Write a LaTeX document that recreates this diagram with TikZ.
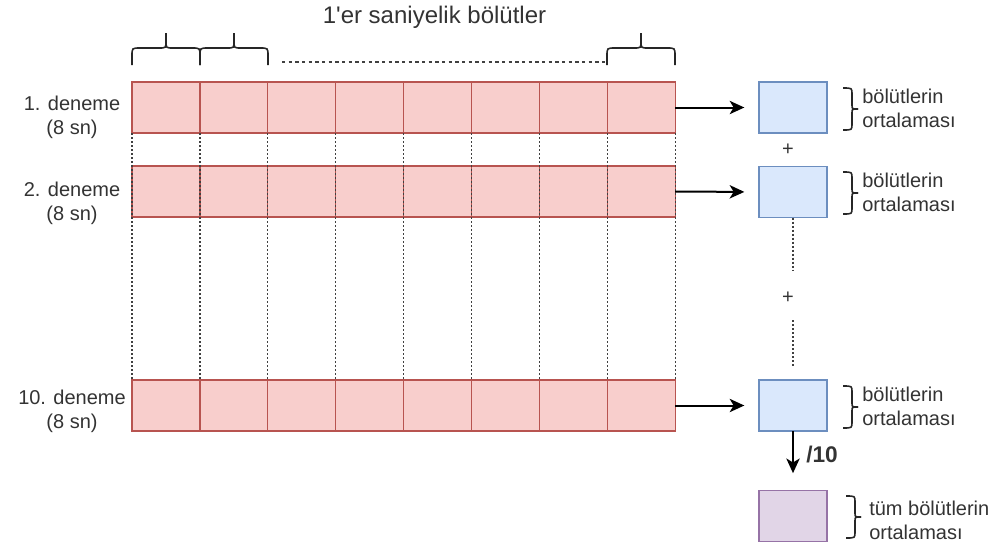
\documentclass[tikz,border=0pt]{standalone}
\usepackage{fontspec}
\setmainfont{Liberation Sans}[Ligatures=TeXOff]
\usetikzlibrary{arrows.meta}
\definecolor{rfill}{HTML}{F8CECC}
\definecolor{rdraw}{HTML}{B85450}
\definecolor{bfill}{HTML}{DAE8FC}
\definecolor{bdraw}{HTML}{6C8EBF}
\definecolor{pfill}{HTML}{E1D5E7}
\definecolor{pdraw}{HTML}{9673A6}
\definecolor{txt}{HTML}{333333}
\newcommand\TopBrace[2]{%
  \draw[bracestyle] (#1,65) -- (#1,56) .. controls (#1,48) .. ({#1+8},48) -- ({(#1+#2)/2-7},48) .. controls ({(#1+#2)/2},48) .. ({(#1+#2)/2},41) -- ({(#1+#2)/2},33);
  \draw[bracestyle] (#2,65) -- (#2,56) .. controls (#2,48) .. ({#2-8},48) -- ({(#1+#2)/2+7},48) .. controls ({(#1+#2)/2},48) .. ({(#1+#2)/2},41);
}
\newcommand\SideBrace[3]{%
  \draw[bracestyle] (#1,#2) .. controls ({#1+9},#2) .. ({#1+9},{#2+6}) -- ({#1+9},{(#2+#3)/2-4}) .. controls ({#1+9},{(#2+#3)/2}) .. ({#1+15},{(#2+#3)/2});
  \draw[bracestyle] (#1,#3) .. controls ({#1+9},#3) .. ({#1+9},{#3-6}) -- ({#1+9},{(#2+#3)/2+4}) .. controls ({#1+9},{(#2+#3)/2}) .. ({#1+15},{(#2+#3)/2});
}
\begin{document}
\begin{tikzpicture}[x=0.75pt,y=-0.75pt,
  font=\fontsize{15pt}{18pt}\selectfont, text=txt,
  cell/.style={draw=rdraw,fill=rfill,line width=1pt,minimum width=50.9pt,minimum height=38.25pt,inner sep=0pt,outer sep=0pt,anchor=north west},
  avgbox/.style={draw=bdraw,fill=bfill,line width=1pt,minimum width=51pt,minimum height=38.25pt,inner sep=0pt,outer sep=0pt},
  allbox/.style={avgbox,draw=pdraw,fill=pfill},
  dotline/.style={draw=black!75,line width=0.9pt,dash pattern=on 1.5pt off 1.5pt},
  dashline/.style={draw=black!75,line width=0.8pt,dash pattern=on 2.5pt off 2.5pt},
  bracestyle/.style={draw=black!85,line width=1.2pt},
  arr/.style={draw=black,line width=1.5pt,-{Stealth[length=11pt,width=10pt,inset=3pt]}},
  lbl/.style={align=center,inner sep=0pt},
  side/.style={align=left,anchor=west,inner sep=0pt},
]
\useasboundingbox (0,0) rectangle (999,550);

\node[inner sep=0pt,font=\fontsize{18pt}{20pt}\selectfont] (title) at (434.5,17) {1'er saniyelik bölütler};

\foreach \i in {0,...,7}{
  \node[cell] (a\i) at ({132+67.9*\i},82) {};
  \node[cell] (b\i) at ({132+67.9*\i},166) {};
  \node[cell] (c\i) at ({132+67.9*\i},380) {};
}
\foreach \i in {0,...,7}{
  \draw[dotline] (a\i.south west) -- (c\i.north west);
}
\draw[dotline] (a7.south east) -- (c7.north east);

\TopBrace{132}{200}
\TopBrace{200}{268}
\TopBrace{607}{675}
\coordinate (h1) at (282,62);
\coordinate (h2) at (605,62);
\draw[dashline] (h1) -- (h2);

\node[lbl] (l1) at (72,117) {1. deneme\\(8 sn)};
\node[lbl] (l2) at (72,203) {2. deneme\\(8 sn)};
\node[lbl] (l3) at (72,411) {10. deneme\\(8 sn)};

\node[avgbox] (m1) at (793,107.5) {};
\node[avgbox] (m2) at (793,192) {};
\node[avgbox] (m3) at (793,405.5) {};
\node[allbox] (p) at (793,516) {};

\draw[arr,shorten >=11pt] (a7.east) -- (m1.west);
\draw[arr,shorten >=11pt] (b7.east) -- (m2.west);
\draw[arr,shorten >=11pt] (c7.east) -- (m3.west);
\draw[arr,shorten >=13pt] (m3.south) -- (p.north);
\node[anchor=west,inner sep=0pt,font=\fontsize{17pt}{20pt}\selectfont\bfseries] (div) at (806,455) {/10};

\node[inner sep=0pt] (plus1) at (788,150) {+};
\node[inner sep=0pt] (plus2) at (788,298) {+};
\coordinate (d1) at (793,270);
\coordinate (d2) at (793,320);
\coordinate (d3) at (793,367);
\draw[dotline] (m2.south) -- (d1);
\draw[dotline] (d2) -- (d3);

\SideBrace{843}{88}{130}
\SideBrace{843}{172}{214}
\SideBrace{843}{386}{428}
\SideBrace{846}{496}{538}
\node[side] (t1) at (862,108) {bölütlerin\\ortalaması};
\node[side] (t2) at (862,192) {bölütlerin\\ortalaması};
\node[side] (t3) at (862,406) {bölütlerin\\ortalaması};
\node[side] (t4) at (869,520) {tüm bölütlerin\\ortalaması};
\end{tikzpicture}
\end{document}
